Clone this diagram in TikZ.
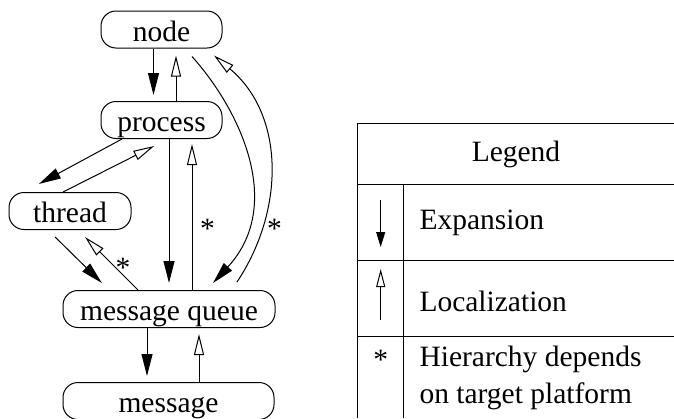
\documentclass[tikz,border=0pt]{standalone}
\usepackage{fontspec}
\setmainfont{Liberation Serif}
\usetikzlibrary{arrows.meta,calc}
\begin{document}
\begin{tikzpicture}[x=1pt,y=-1pt, line width=1pt,
  every node/.style={font=\fontsize{29.5}{35}\selectfont, inner sep=0pt},
  box/.style={draw, rounded corners=15pt, minimum height=37pt, text height=25pt, text depth=2pt},
  exparrow/.style={-{Triangle[length=22pt,width=11pt]}},
  locarrow/.style={-{Triangle[open,length=21pt,width=10pt]}},
  lexp/.style={-{Triangle[length=15pt,width=9pt]}},
  lloc/.style={-{Triangle[open,length=18pt,width=9pt]}},
]
\useasboundingbox (0,0) rectangle (674,418);
% nodes
\node[box, minimum width=121pt] (nd) at (161.5,29.5) {node};
\node[box, minimum width=121pt] (pr) at (161.5,120) {process};
\node[box, minimum width=122pt] (th) at (70,211) {thread};
\node[box, minimum width=212pt] (mq) at (169,309) {message queue\hspace{14pt}};
\node[box, minimum width=211pt] (ms) at (168.5,401) {message\hspace{18pt}};
% edges
\draw[exparrow, shorten >=6pt] ([xshift=-8pt]nd.south) -- ([xshift=-8pt]pr.north);
\draw[locarrow, shorten >=7pt] ([xshift=14.5pt]pr.north) -- ([xshift=14.5pt]nd.south);
\draw[exparrow, shorten >=17pt] ([xshift=-39.5pt]pr.south) -- ([xshift=-46pt]th.north);
\draw[locarrow, shorten >=15.5pt] ([xshift=-7pt]th.north) -- ([xshift=6.5pt]pr.south);
\draw[exparrow, shorten <=10pt, shorten >=10pt] ([xshift=-22pt]th.south) -- ([xshift=-60pt]mq.north);
\draw[locarrow, shorten >=10pt] ([xshift=-31pt]mq.north) -- ([xshift=8pt]th.south);
\draw[exparrow, shorten >=7pt] ([xshift=7.5pt]pr.south) -- ([xshift=0pt]mq.north);
\draw[locarrow, shorten >=5pt] ([xshift=23pt]mq.north) -- ([xshift=30.5pt]pr.south);
\draw[exparrow, shorten >=6pt] ([xshift=-22pt]mq.south) -- ([xshift=-21.5pt]ms.north);
\draw[locarrow, shorten >=6pt] ([xshift=30.5pt]ms.north) -- ([xshift=30pt]mq.south);
\draw[exparrow] ($(nd.south)+(30.5,8)$) .. controls (240,110) and (285,205) .. ($(mq.north)+(44,-7)$);
\draw[locarrow] ($(mq.north)+(68,-8)$) .. controls (285,210) and (285,115) .. ($(nd.south)+(52.5,7)$);
% stars
\node[anchor=base] (s1) at (207.5,238) {*};
\node[anchor=base] (s2) at (274.5,238) {*};
\node[anchor=base] (s3) at (123,277) {*};
% legend
\draw (357.7,418) -- (357.7,123) -- (674,123);
\draw (357.7,184) -- (674,184);
\draw (357.7,260) -- (674,260);
\draw (357.7,336) -- (674,336);
\draw (403,184) -- (403,418);
\node[anchor=base] (lg) at (516,161.7) {Legend};
\node[anchor=base west] (le) at (419,229) {Expansion};
\node[anchor=base west] (ll) at (419,311.7) {Localization};
\node[anchor=base west] (lh) at (419,366) {Hierarchy depends};
\node[anchor=base west] (lp) at (419,403) {on target platform};
\node[anchor=base] (ls) at (380.7,369) {*};
\draw[lexp] (380.7,200) -- (380.7,247);
\draw[lloc] (380.7,320) -- (380.7,269);
\end{tikzpicture}
\end{document}
